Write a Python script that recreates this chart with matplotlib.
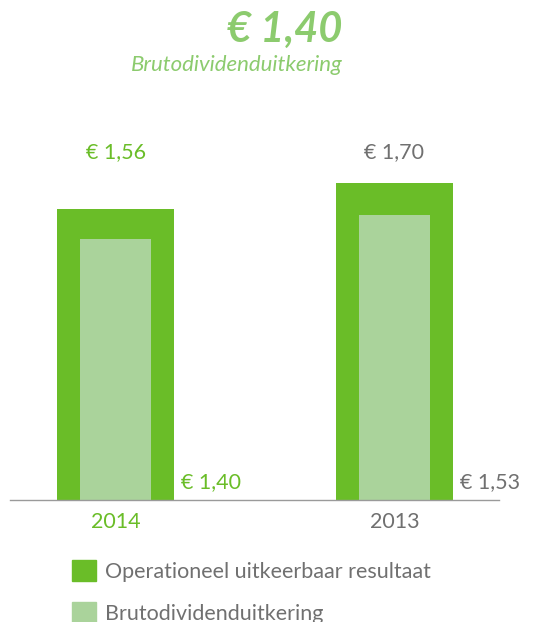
import matplotlib.pyplot as plt
from matplotlib.patches import Patch

years = ['2014', '2013']
resultaat = [1.56, 1.70]
dividend = [1.40, 1.53]
outer_labels = ['€ 1,56', '€ 1,70']
inner_labels = ['€ 1,40', '€ 1,53']
year_colors = ['#6abd28', '#707070']

dark_green = '#6abd28'
light_green = '#aad39b'
gray = '#707070'

plt.rcParams['font.family'] = ['Lato', 'DejaVu Sans']

fig = plt.figure(figsize=(5.39, 6.22), dpi=100)
ax = fig.add_axes([0, 0, 1, 1])
ax.set_xlim(-0.414, 1.518)
ax.set_ylim(-0.654, 2.681)
ax.axis('off')

x = [0, 1]
outer_w = 0.419
inner_w = 0.254
ax.bar(x, resultaat, width=outer_w, color=dark_green)
ax.bar(x, dividend, width=inner_w, color=light_green)
ax.axhline(0, xmin=0.0186, xmax=0.926, color='#9a9a9a', lw=1)

fs = 15.5
for i in x:
    ax.text(i, 1.866, outer_labels[i], ha='center', va='center', fontsize=fs,
            color=year_colors[i])
    ax.text(i + outer_w / 2 + 0.025, 0.0965, inner_labels[i], ha='left', va='center',
            fontsize=fs, color=year_colors[i])
    ax.text(i, -0.118, years[i], ha='center', va='center', fontsize=fs,
            color=year_colors[i])

# kop
fig.text(0.636, 1 - 30 / 622, '€ 1,40', ha='right', va='center', fontsize=30,
         fontweight='bold', fontstyle='italic', color='#8ccb6e')
fig.text(0.636, 1 - 65 / 622, 'Brutodividenduitkering', ha='right', va='center',
         fontsize=16, fontstyle='italic', color='#8ccb6e')

handles = [Patch(color=dark_green), Patch(color=light_green)]
fig.legend(handles, ['Operationeel uitkeerbaar resultaat', 'Brutodividenduitkering'],
           loc='upper left', bbox_to_anchor=(72 / 539, 1 - 560 / 622), frameon=False,
           fontsize=fs, labelcolor=gray, handlelength=1.1, handleheight=1.15,
           handletextpad=0.45, labelspacing=0.92, borderpad=0, borderaxespad=0)

plt.savefig('out.png', dpi=100)
